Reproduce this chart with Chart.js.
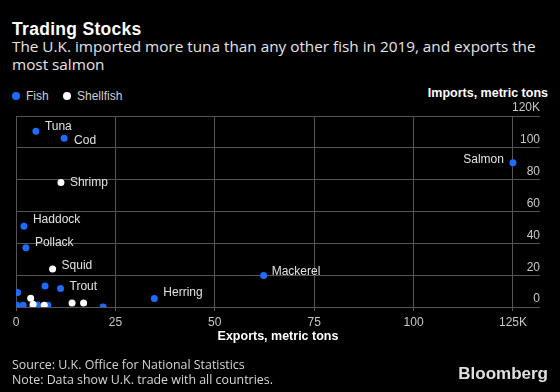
<html>
<head>
    <title>Trading Stocks</title>
    <style>
        body {
            margin: 0;
            background: #000;
            width: 560px;
            height: 392px;
            position: relative;
            overflow: hidden;
            font-family: "Liberation Sans", Arial, sans-serif;
            color: #fff;
        }
        .title {
            position: absolute;
            left: 12px;
            top: 19px;
            font-size: 17.5px;
            letter-spacing: 0.3px;
            font-weight: bold;
        }
        .subtitle {
            position: absolute;
            left: 12px;
            top: 37px;
            width: 540px;
            font-family: "Open Sans", sans-serif;
            font-size: 15.3px;
            line-height: 18px;
            color: #e6e6e6;
        }
        .legend {
            position: absolute;
            left: 12px;
            top: 89px;
            font-size: 12px;
            color: #d0d0d0;
        }
        .legend span.dot {
            display: inline-block;
            width: 8px;
            height: 8px;
            border-radius: 50%;
            margin-right: 6px;
        }
        .legend span.item {
            margin-right: 11px;
        }
        .ytitle {
            position: absolute;
            right: 12px;
            top: 86px;
            font-size: 12.5px;
            font-weight: bold;
        }
        .source {
            position: absolute;
            left: 12px;
            top: 357px;
            font-family: "Open Sans", sans-serif;
            font-size: 12.4px;
            line-height: 15px;
            color: #d6d6d6;
        }
        .brand {
            position: absolute;
            right: 12px;
            top: 364px;
            font-size: 17px;
            font-weight: bold;
            color: #e0e0e0;
        }
        #chartBox {
            position: absolute;
            left: 0;
            top: 0;
            width: 560px;
            height: 392px;
        }
    </style>
    <script src="https://cdn.jsdelivr.net/npm/chart.js"></script>
</head>
<body>
    <div class="title">Trading Stocks</div>
    <div class="subtitle">The U.K. imported more tuna than any other fish in 2019, and exports the most salmon</div>
    <div class="legend">
        <span class="item"><span class="dot" style="background:#1f6bff"></span>Fish</span>
        <span class="item"><span class="dot" style="background:#fff"></span>Shellfish</span>
    </div>
    <div class="ytitle">Imports, metric tons</div>
    <div id="chartBox"><canvas id="fishChart" width="560" height="392"></canvas></div>
    <div class="source">Source: U.K. Office for National Statistics<br>Note: Data show U.K. trade with all countries.</div>
    <div class="brand">Bloomberg</div>
    <script>
        // thousand metric tons
        var fishNames   = ['Salmon', 'Tuna', 'Cod', 'Haddock', 'Pollack', 'Mackerel', 'Trout', 'Herring', '', '', '', '', '', '', '', '', ''];
        var fishExports = [125, 5.0, 12.1, 2.0, 2.5, 62.3, 11.2, 34.8, 7.3, 0.4, 21.9, 0.2, 1.8, 1.6, 4.2, 5.4, 8.0];
        var fishImports = [90.7, 110.4, 106, 50.8, 37.2, 19.8, 11.7, 5.4, 13.3, 9.2, 0.0, 1.1, 1.1, 0.1, 0.1, 1.3, 1.1];

        var shellNames   = ['Shrimp', 'Squid', '', '', '', '', ''];
        var shellExports = [11.3, 9.2, 3.7, 4.3, 7.1, 14.1, 17.0];
        var shellImports = [78.3, 24.0, 5.5, 1.8, 1.2, 2.5, 2.5];

        var xTicks = [0, 25, 50, 75, 100, 125];
        var xTickLabels = ['0', '25', '50', '75', '100', '125K'];
        var yTicks = [0, 20, 40, 60, 80, 100, 120];
        var yTickLabels = ['0', '20', '40', '60', '80', '100', '120K'];

        // where each label sits relative to its dot
        var labelPos = {
            Tuna: [9, -5], Cod: [10, 2], Shrimp: [9, 0], Haddock: [9, -7],
            Pollack: [9, -5], Squid: [9, -3], Trout: [9, -2], Herring: [9, -6],
            Mackerel: [8, -4], Salmon: [-9, -3]
        };

        function toPoints(xs, ys) {
            var pts = [];
            for (var i = 0; i < xs.length; i++) {
                pts.push({ x: xs[i], y: ys[i] });
            }
            return pts;
        }

        var pointLabels = {
            id: 'pointLabels',
            afterDatasetsDraw: function (chart) {
                var ctx = chart.ctx;
                var names = [fishNames, shellNames];
                ctx.save();
                ctx.font = '12px "Liberation Sans", Arial, sans-serif';
                ctx.fillStyle = '#e2e2e2';
                ctx.textBaseline = 'middle';
                for (var d = 0; d < 2; d++) {
                    var meta = chart.getDatasetMeta(d);
                    meta.data.forEach(function (el, i) {
                        var name = names[d][i];
                        if (!name) return;
                        var off = labelPos[name] || [9, 0];
                        ctx.textAlign = off[0] < 0 ? 'right' : 'left';
                        ctx.fillText(name, el.x + off[0], el.y + off[1]);
                    });
                }
                ctx.restore();
            }
        };

        var ctx = document.getElementById('fishChart').getContext('2d');
        var fishChart = new Chart(ctx, {
            type: 'scatter',
            data: {
                datasets: [
                    {
                        label: 'Fish',
                        data: toPoints(fishExports, fishImports),
                        backgroundColor: '#1f6bff',
                        borderWidth: 0,
                        pointRadius: 3.5,
                        order: 2
                    },
                    {
                        label: 'Shellfish',
                        data: toPoints(shellExports, shellImports),
                        backgroundColor: '#ffffff',
                        borderWidth: 0,
                        pointRadius: 3.5,
                        order: 1
                    }
                ]
            },
            options: {
                responsive: false,
                animation: false,
                layout: {
                    padding: { top: 116, left: 16, right: 20, bottom: 47.5 }
                },
                plugins: {
                    legend: { display: false },
                    tooltip: { enabled: false }
                },
                scales: {
                    x: {
                        type: 'linear',
                        min: 0,
                        max: 131.8,
                        afterBuildTicks: function (axis) {
                            axis.ticks = xTicks.map(function (v) { return { value: v }; });
                        },
                        grid: { color: '#555555', tickLength: 4 },
                        border: { display: false },
                        ticks: {
                            color: '#c8c8c8',
                            padding: 4,
                            maxRotation: 0,
                            font: { family: '"Liberation Sans", Arial', size: 12 },
                            callback: function (v) {
                                var i = xTicks.indexOf(v);
                                return i < 0 ? '' : xTickLabels[i];
                            }
                        },
                        title: {
                            display: true,
                            text: 'Exports, metric tons',
                            color: '#ffffff',
                            padding: { top: -4, bottom: 0 },
                            font: { family: '"Liberation Sans", Arial', size: 12.5, weight: 'bold' }
                        }
                    },
                    y: {
                        position: 'right',
                        min: 0,
                        max: 120,
                        afterBuildTicks: function (axis) {
                            axis.ticks = yTicks.map(function (v) { return { value: v }; });
                        },
                        grid: { color: '#555555', drawTicks: false },
                        border: { display: false },
                        ticks: {
                            mirror: true,
                            padding: 0,
                            labelOffset: -8,
                            color: '#c8c8c8',
                            font: { family: '"Liberation Sans", Arial', size: 12 },
                            callback: function (v) {
                                var i = yTicks.indexOf(v);
                                return i < 0 ? '' : yTickLabels[i];
                            }
                        }
                    }
                }
            },
            plugins: [pointLabels]
        });
    </script>
</body>
</html>
